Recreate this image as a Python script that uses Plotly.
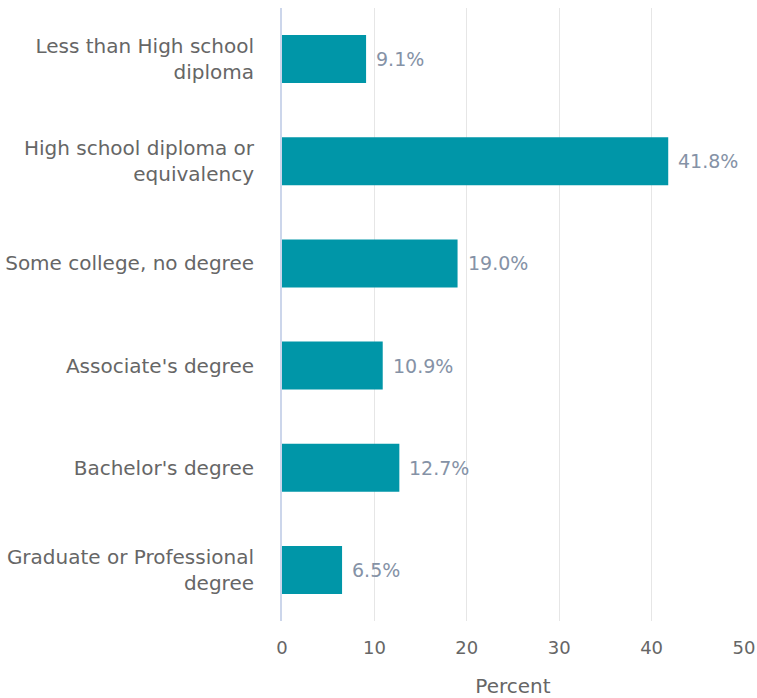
import plotly.graph_objects as go

categories = [
    "Less than High school<br>diploma",
    "High school diploma or<br>equivalency",
    "Some college, no degree",
    "Associate's degree",
    "Bachelor's degree",
    "Graduate or Professional<br>degree",
]
values = [9.1, 41.8, 19.0, 10.9, 12.7, 6.5]
labels = ["9.1%", "41.8%", "19.0%", "10.9%", "12.7%", "6.5%"]
x_ticks = [0, 10, 20, 30, 40, 50]

FONT = "DejaVu Sans, Verdana, sans-serif"

fig = go.Figure()
fig.add_trace(go.Bar(
    y=categories,
    x=values,
    orientation="h",
    marker=dict(color="#0096A8", line=dict(width=0)),
    width=0.47,
    hoverinfo="skip",
))

for c, v, t in zip(categories, values, labels):
    fig.add_annotation(
        x=v, y=c, text=t, showarrow=False,
        xanchor="left", yanchor="middle", xshift=8,
        font=dict(family=FONT, size=19, color="#8592a6"),
    )

fig.update_layout(
    width=757, height=698,
    margin=dict(l=282, r=13, t=8, b=77, autoexpand=False),
    paper_bgcolor="white",
    plot_bgcolor="white",
    showlegend=False,
    font=dict(family=FONT, size=19, color="#666666"),
    bargap=0.53,
)
fig.update_xaxes(
    range=[0, 50],
    tickvals=x_ticks,
    ticktext=[str(v) for v in x_ticks],
    showgrid=True, gridcolor="#e6e6e6", gridwidth=1,
    zeroline=False,
    showline=False,
    ticks="",
    automargin=False,
    ticklabelstandoff=14,
    tickfont=dict(family=FONT, size=18, color="#666666"),
    title=dict(text="Percent", font=dict(family=FONT, size=20, color="#666666"), standoff=21),
)
fig.update_yaxes(
    autorange="reversed",
    showgrid=False,
    showline=True, linecolor="#ccd6eb", linewidth=2,
    ticks="",
    automargin=False,
    ticklabelstandoff=22,
    tickfont=dict(family=FONT, size=20, color="#666666"),
)

fig.write_html("out.html")
